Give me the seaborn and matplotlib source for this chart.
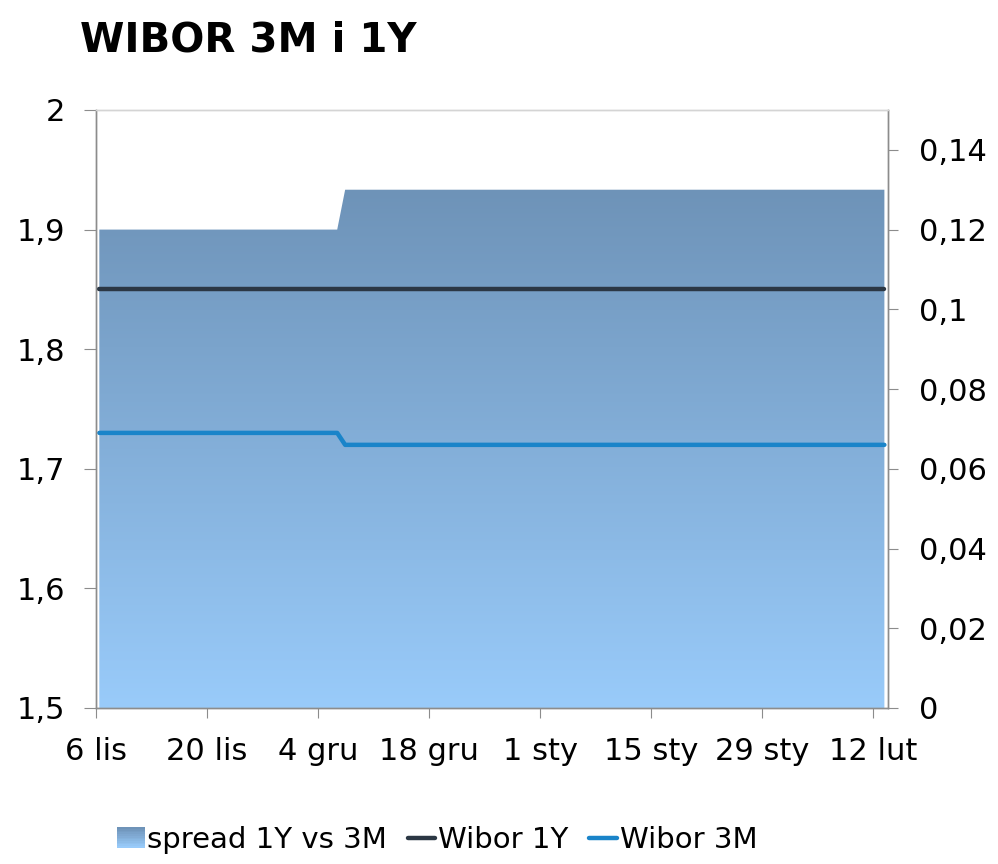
import numpy as np
import pandas as pd
import seaborn as sns
import matplotlib.pyplot as plt
import matplotlib.dates as mdates
from matplotlib.colors import LinearSegmentedColormap
from matplotlib.legend_handler import HandlerBase
from matplotlib.patches import Rectangle, Patch
from matplotlib.lines import Line2D
from matplotlib.ticker import FuncFormatter

# data (step points only, values are flat between them)
dates = ["2017-11-06", "2017-12-06", "2017-12-07", "2018-02-13"]
wibor_1y = [1.85, 1.85, 1.85, 1.85]
wibor_3m = [1.73, 1.73, 1.72, 1.72]
spread = [0.12, 0.12, 0.13, 0.13]

tick_dates = ["2017-11-06", "2017-11-20", "2017-12-04", "2017-12-18",
              "2018-01-01", "2018-01-15", "2018-01-29", "2018-02-12"]
tick_labels = ["6 lis", "20 lis", "4 gru", "18 gru",
               "1 sty", "15 sty", "29 sty", "12 lut"]
left_ticks = [1.5, 1.6, 1.7, 1.8, 1.9, 2.0]
right_ticks = [0, 0.02, 0.04, 0.06, 0.08, 0.10, 0.12, 0.14]

df = pd.DataFrame({"date": pd.to_datetime(dates), "Wibor 1Y": wibor_1y,
                   "Wibor 3M": wibor_3m, "spread": spread})
df["date"] = df["date"] + pd.Timedelta(hours=10)

sns.set_style("white")
plt.rcParams["font.family"] = ["DejaVu Sans"]
plt.rcParams["text.color"] = "black"
plt.rcParams["xtick.labelcolor"] = "black"
plt.rcParams["ytick.labelcolor"] = "black"

C_1Y = "#2b3744"
C_3M = "#1a84c9"
grad = LinearSegmentedColormap.from_list("g", ["#99cbfa", "#6e93b8"])
spine_c = "#8c8c8c"

fig = plt.figure(figsize=(9.98, 8.64), dpi=100)
ax = fig.add_axes([0.0962, 0.1806, 0.7936, 0.6921])
ax2 = ax.twinx()

# spread area with vertical gradient on the right axis
x_num = mdates.date2num(df["date"])
poly = ax2.fill_between(x_num, 0, df["spread"], color="none", lw=0)
x0 = mdates.date2num(pd.Timestamp("2017-11-06"))
x1 = mdates.date2num(pd.Timestamp("2018-02-13 21:00"))
top = max(spread)
img = ax2.imshow(np.linspace(0, 1, 256).reshape(-1, 1), cmap=grad,
                 origin="lower", aspect="auto",
                 extent=[x_num[0], x_num[-1], 0, top], zorder=1)
img.set_clip_path(poly.get_paths()[0], transform=ax2.transData)

sns.lineplot(data=df, x="date", y="Wibor 1Y", ax=ax, color=C_1Y, lw=3.2)
sns.lineplot(data=df, x="date", y="Wibor 3M", ax=ax, color=C_3M, lw=3.2)

ax.set_zorder(ax2.get_zorder() + 1)
ax.patch.set_visible(False)

ax.set_xlim(x0, x1)
ax2.set_xlim(x0, x1)
ax.set_ylim(1.5, 2.0)
ax2.set_ylim(0, 0.15)

ax.set_xticks(mdates.date2num(pd.to_datetime(tick_dates)))
ax.set_xticklabels(tick_labels)
ax.set_yticks(left_ticks)
ax2.set_yticks(right_ticks)
fmt = FuncFormatter(lambda v, p: ("%g" % round(v, 2)).replace(".", ","))
ax.yaxis.set_major_formatter(fmt)
ax2.yaxis.set_major_formatter(fmt)

ax.set_xlabel("")
ax.set_ylabel("")
ax2.set_ylabel("")

for a in (ax, ax2):
    for s in a.spines.values():
        s.set_color(spine_c)
        s.set_linewidth(1.0)
    a.spines["top"].set_color("#d4d4d4")
ax.tick_params(axis="y", direction="out", length=9, width=0.8,
               color=spine_c, labelsize=22, pad=13, left=True)
ax.tick_params(axis="x", direction="out", length=7, width=0.8,
               color=spine_c, labelsize=22, pad=14, bottom=True)
ax2.tick_params(axis="y", direction="out", length=7, width=0.8,
                color=spine_c, labelsize=22, pad=15, right=True)

fig.text(0.080, 0.953, "WIBOR 3M i 1Y", fontsize=29, fontweight="bold",
         ha="left", va="center", color="black")


class GradientHandler(HandlerBase):
    def create_artists(self, legend, orig_handle, xdescent, ydescent,
                       width, height, fontsize, trans):
        n = 12
        arts = []
        for i in range(n):
            r = Rectangle((-xdescent, -ydescent + height * i / n), width,
                          height / n + 0.2, facecolor=grad(i / (n - 1)),
                          edgecolor="none", transform=trans)
            arts.append(r)
        return arts


h_spread = Patch(label="spread 1Y vs 3M")
h_1y = Line2D([], [], color=C_1Y, lw=3.2, label="Wibor 1Y")
h_3m = Line2D([], [], color=C_3M, lw=3.2, label="Wibor 3M")
fig.legend(handles=[h_spread, h_1y, h_3m], loc="center",
           bbox_to_anchor=(0.438, 0.028), ncol=3, frameon=False,
           fontsize=21, handlelength=0.95, handleheight=0.7,
           handletextpad=0.1, columnspacing=0.7,
           handler_map={Patch: GradientHandler()})

fig.savefig("out.png", dpi=100)
